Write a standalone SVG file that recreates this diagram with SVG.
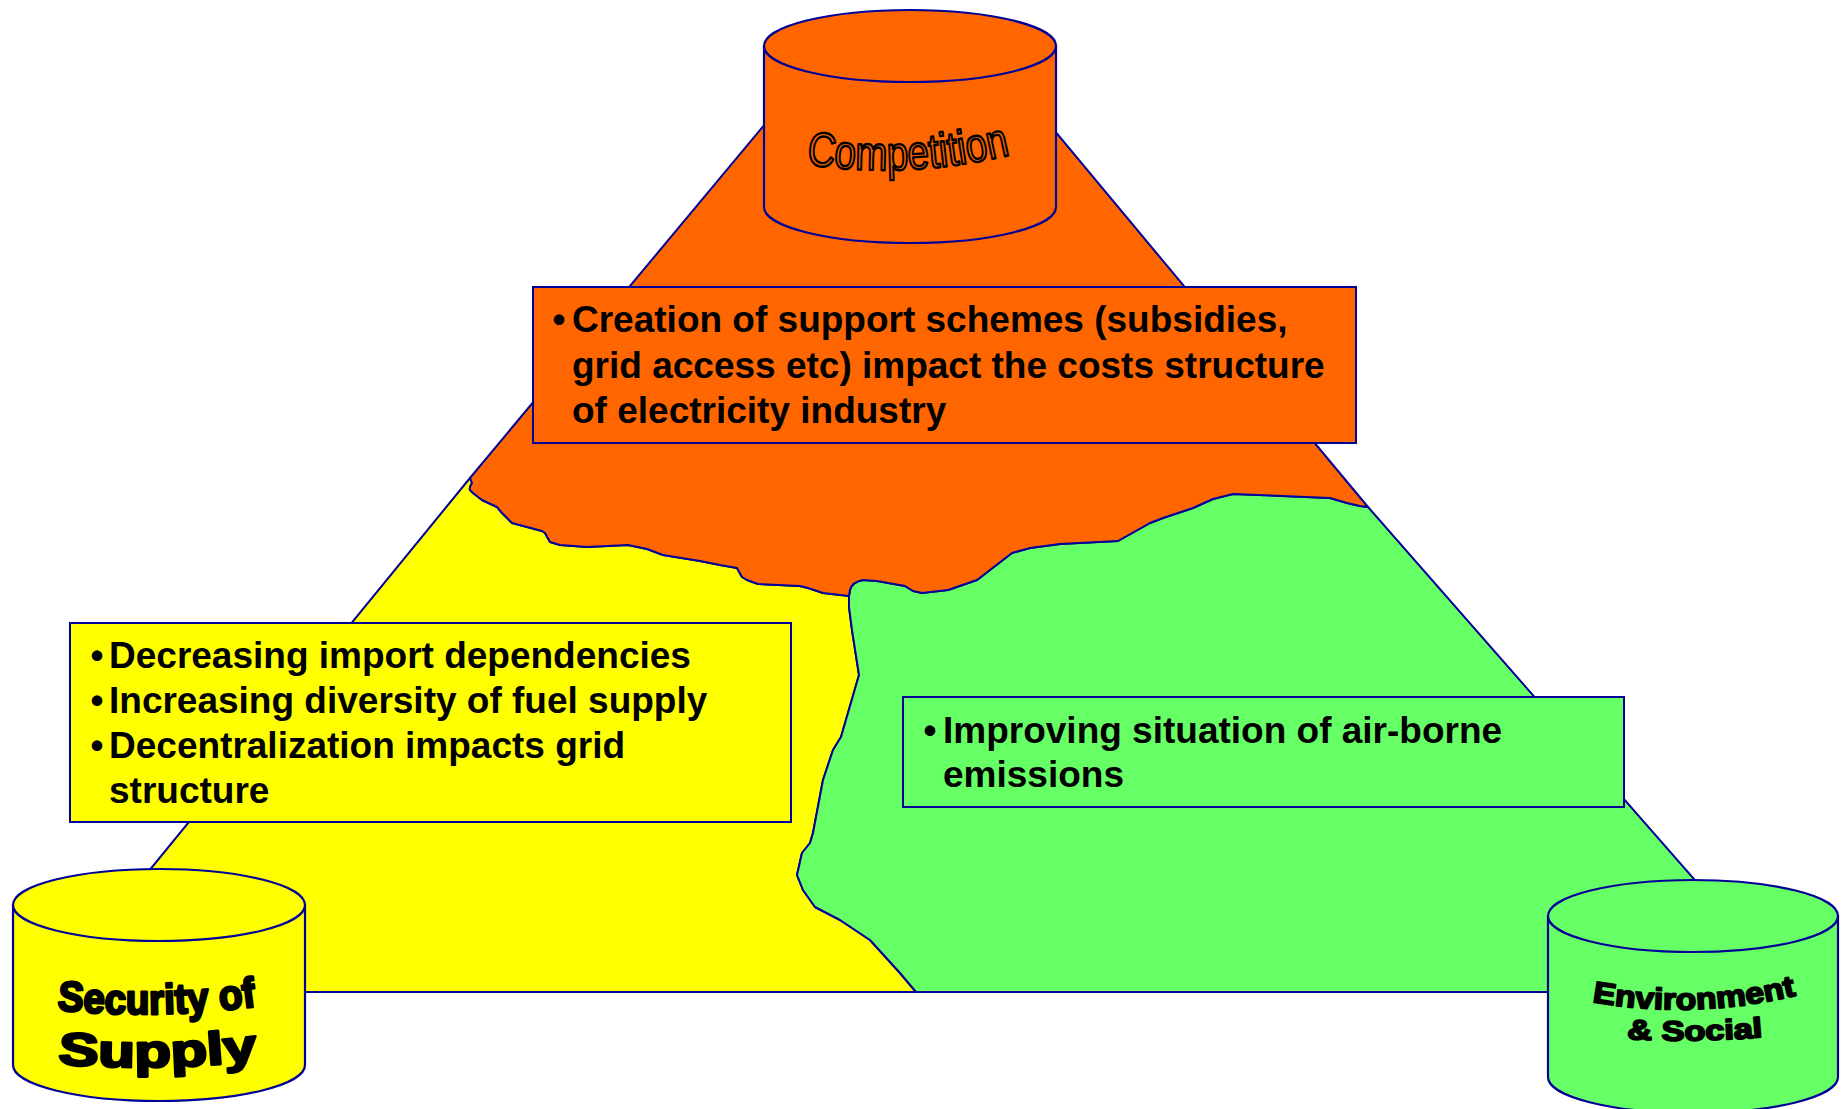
<svg xmlns="http://www.w3.org/2000/svg" width="1841" height="1109" viewBox="0 0 1841 1109">
<style>
.reg{stroke:#000099;stroke-width:2;stroke-linejoin:round}
.box{stroke:#000099;stroke-width:2}
.cyl{stroke:#000099;stroke-width:2.2}
.orange{fill:#FF6600}
.yellow{fill:#FFFF00}
.green{fill:#66FF66}
.t{font-family:"Liberation Sans",Arial,sans-serif;font-weight:bold;font-size:37px;fill:#000}
.bul{font-family:"Liberation Sans",Arial,sans-serif;font-weight:bold;font-size:37px;fill:#000;text-anchor:middle}
.wa{font-family:"Liberation Sans",Arial,sans-serif;font-weight:bold;fill:#000;stroke:#000;stroke-width:2.6;stroke-linejoin:round}
</style>
<defs>
<path id="arcComp" d="M 806 164 Q 905 180 1014 154"/>
<path id="arcSec" d="M 57 1010 Q 158 1020 259 1006"/>
<path id="arcSup" d="M 58 1064 Q 160 1072 262 1060"/>
<path id="arcEnv" d="M 1592 1002 Q 1695 1020 1798 995"/>
<path id="arcSoc" d="M 1627 1039 Q 1695 1043 1764 1037"/>
</defs>

<g id="regions">
<path id="region-yellow" class="reg yellow" d="M 470 478 L 472 483 Q 469 488 470 490 L 473 493 L 482 500 L 497 507 L 502 513 L 512 523 L 542 531 L 545 533 L 550 542 L 560 545 L 587 547 L 628 545 L 647 549 L 663 555 L 700 561 L 720 565 L 737 568 L 742 577 L 747 580 L 758 584 L 800 586 L 808 588 L 823 593 L 849 596 L 849 607 L 852 630 L 859 675 L 841 737 L 833 750 L 823 780 L 813 833 L 810 843 L 802 853 L 797 875 L 803 890 L 815 907 L 840 920 L 870 940 L 900 973 L 916 992 L 50 992 Z"/>
<path id="region-green" class="reg green" d="M 849 596 L 850 590 Q 852 582 863 580 L 877 581 L 905 586 L 913 591 L 922 593 L 948 590 L 977 580 L 1012 553 L 1030 548 L 1060 544 L 1118 541 L 1150 523 L 1163 518 L 1193 508 L 1213 499 L 1233 494 L 1330 498 L 1347 503 L 1360 506 L 1368 507 L 1793 992 L 916 992 L 900 973 L 870 940 L 840 920 L 815 907 L 803 890 L 797 875 L 802 853 L 810 843 L 813 833 L 823 780 L 833 750 L 841 737 L 859 675 L 852 630 L 849 607 Z"/>
<path id="region-orange" class="reg orange" d="M 470 478 L 472 483 Q 469 488 470 490 L 473 493 L 482 500 L 497 507 L 502 513 L 512 523 L 542 531 L 545 533 L 550 542 L 560 545 L 587 547 L 628 545 L 647 549 L 663 555 L 700 561 L 720 565 L 737 568 L 742 577 L 747 580 L 758 584 L 800 586 L 808 588 L 823 593 L 849 596 L 850 590 Q 852 582 863 580 L 877 581 L 905 586 L 913 591 L 922 593 L 948 590 L 977 580 L 1012 553 L 1030 548 L 1060 544 L 1118 541 L 1150 523 L 1163 518 L 1193 508 L 1213 499 L 1233 494 L 1330 498 L 1347 503 L 1360 506 L 1368 507 L 979 40 L 835 40 Z"/>
</g>

<g id="box-competition">
<rect class="box orange" x="533" y="287" width="823" height="156"/>
<text class="bul" x="559" y="332">•</text>
<text class="t" x="572" y="332">Creation of support schemes (subsidies,</text>
<text class="t" x="572" y="378">grid access etc) impact the costs structure</text>
<text class="t" x="572" y="423">of electricity industry</text>
</g>

<g id="box-security">
<rect class="box yellow" x="70" y="623" width="721" height="199"/>
<text class="bul" x="97" y="668">•</text>
<text class="t" x="109" y="668">Decreasing import dependencies</text>
<text class="bul" x="97" y="713">•</text>
<text class="t" x="109" y="713">Increasing diversity of fuel supply</text>
<text class="bul" x="97" y="758">•</text>
<text class="t" x="109" y="758">Decentralization impacts grid</text>
<text class="t" x="109" y="803">structure</text>
</g>

<g id="box-environment">
<rect class="box green" x="903" y="697" width="721" height="110"/>
<text class="bul" x="930" y="743">•</text>
<text class="t" x="943" y="743">Improving situation of air-borne</text>
<text class="t" x="943" y="787">emissions</text>
</g>

<g id="node-competition">
<path class="cyl orange" d="M 764 46 L 764 207 A 146 36 0 0 0 1056 207 L 1056 46 Z"/>
<ellipse class="cyl orange" cx="910" cy="46" rx="146" ry="36"/>
<text font-family="Liberation Sans, Arial, sans-serif" font-size="48" fill="#FF6600" stroke="#000" stroke-width="2.4" stroke-linejoin="round"><textPath href="#arcComp" textLength="206" lengthAdjust="spacingAndGlyphs">Competition</textPath></text>
</g>

<g id="node-security">
<path class="cyl yellow" d="M 13 905 L 13 1065 A 146 36 0 0 0 305 1065 L 305 905 Z"/>
<ellipse class="cyl yellow" cx="159" cy="905" rx="146" ry="36"/>
<text class="wa" font-size="42"><textPath href="#arcSec" textLength="200" lengthAdjust="spacingAndGlyphs">Security of</textPath></text>
<text class="wa" font-size="46"><textPath href="#arcSup" textLength="200" lengthAdjust="spacingAndGlyphs">Supply</textPath></text>
</g>

<g id="node-environment">
<path class="cyl green" d="M 1548 916 L 1548 1077 A 145 36 0 0 0 1838 1077 L 1838 916 Z"/>
<ellipse class="cyl green" cx="1693" cy="916" rx="145" ry="36"/>
<text class="wa" font-size="30" style="stroke-width:1.8"><textPath href="#arcEnv" textLength="206" lengthAdjust="spacingAndGlyphs">Environment</textPath></text>
<text class="wa" font-size="28" style="stroke-width:1.8"><textPath href="#arcSoc" textLength="136" lengthAdjust="spacingAndGlyphs">&amp; Social</textPath></text>
</g>
</svg>
